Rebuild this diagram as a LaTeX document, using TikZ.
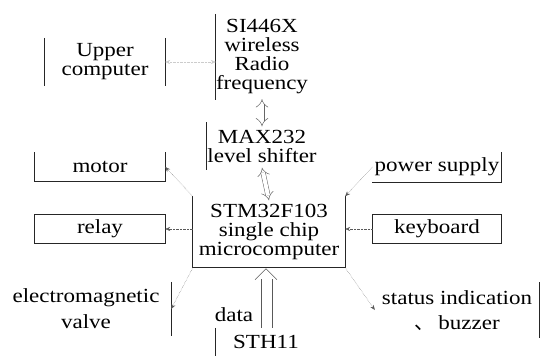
\documentclass[tikz,border=0pt]{standalone}
\usepackage{fontspec}
\setmainfont{Liberation Serif}[FakeStretch=1.15]
\newfontfamily\cjk{Noto Sans CJK SC}
\usepackage{tikz}
\usetikzlibrary{
  arrows.meta,
  positioning
}
\newcommand{\blksize}{\fontsize{20}{19}\selectfont}

\begin{document}
\begin{tikzpicture}[
  x=1pt, y=-1pt,
  blk/.style={inner sep=0pt, align=center, font=\blksize, minimum width=#1},
  rim/.style={line width=1pt, black!85},
  link/.style={-{Stealth[length=5pt, width=4pt]}, densely dotted, gray!70!black, thin},
  bus/.style={double, double distance=4pt, {Implies}-{Implies}, gray!80!black, line width=0.5pt},
  feed/.style={gray!70!black, line width=0.8pt}
]
  \useasboundingbox (0,0) rectangle (540,356);

  % Upper part: radio and level shifter
  \node[blk=90pt, minimum height=86pt] (rf) at (262,57) {SI446X\\wireless\\Radio\\frequency};
  \node[blk=120pt, minimum height=48pt] (upper) at (105,62) {Upper\\computer};
  \node[blk=110pt, minimum height=47pt] (max) at (262,146) {MAX232\\level shifter};

  % MCU
  \node[blk=152pt, minimum height=71pt] (mcu) at (269,232) {STM32F103\\single chip\\microcomputer};

  % Left side
  \node[blk=130pt, minimum height=29pt] (motor) at (100,167) {motor};
  \node[blk=130pt, minimum height=29pt] (relay) at (100,229) {relay};
  \node[blk=170pt, minimum height=54pt] (valve) at (86,309) {electromagnetic\\[7pt]valve};

  % Right side
  \node[blk=129pt, minimum height=30pt] (power) at (437,167) {power supply};
  \node[blk=129pt, minimum height=29pt] (keyb) at (437,229) {keyboard};
  \node[blk=164pt, minimum height=55pt] (status) at (457,310) {status indication\\[6pt]\smash{\cjk 、}\hspace{4pt}buzzer};

  % Bottom: sensor
  \node[blk=100pt, minimum height=28pt] (sth) at (266,342) {STH11};
  \node[font=\blksize, inner sep=0pt] (data) at (234,315) {data};

  % Box borders (only the visible edges)
  \draw[rim] (rf.north west) -- (rf.south west);
  \draw[rim] (upper.north west) -- (upper.south west);
  \draw[rim] (upper.north east) -- (upper.south east);
  \draw[rim] (max.north west) -- (max.south west);
  \draw[rim] (mcu.north west) -- (mcu.south west) -- (mcu.south east) -- (mcu.north east);
  \draw[rim] (motor.north west) -- (motor.south west) -- (motor.south east) -- (motor.north east);
  \draw[rim] (relay.north west) rectangle (relay.south east);
  \draw[rim] (valve.north east) -- (valve.south east);
  \draw[rim] (power.south west) -- (power.south east) -- (power.north east);
  \draw[rim] (keyb.north west) rectangle (keyb.south east);
  \draw[rim] (status.north east) -- (status.south east);
  \draw[rim] (sth.north west) -- (sth.south west);

  % Arrows
  \draw[link, gray!40, {Stealth[length=5pt, width=4pt]}-{Stealth[length=5pt, width=4pt]}] (upper.east) -- (rf.west |- upper.east);
  \draw[bus] ([yshift=1pt]rf.south) -- ([yshift=-4pt]max.north);
  \draw[bus] ([yshift=2pt]max.south) -- ([yshift=-4pt]mcu.north);
  \draw[link] (mcu.north west) -- (motor.east);
  \draw[link] (mcu.west |- relay.east) -- (relay.east);
  \draw[link] (power.west) -- (mcu.north east);
  \draw[link] (keyb.west) -- (mcu.east |- keyb.west);
  \draw[link] (mcu.south west) -- (valve.east);
  \draw[link] (mcu.south east) -- (status.west);

  % Hollow data arrow from the sensor
  \draw[feed] ([xshift=-8pt]sth.north -| mcu.south) -- ([xshift=-8pt, yshift=-11pt]mcu.south);
  \draw[feed] ([xshift=3pt]sth.north -| mcu.south) -- ([xshift=3pt, yshift=-11pt]mcu.south);
  \draw[feed, line width=0.5pt] ([xshift=-14pt, yshift=-12pt]mcu.south) -- ([xshift=-3pt, yshift=-1pt]mcu.south)
    -- ([xshift=8pt, yshift=-12pt]mcu.south);
\end{tikzpicture}
\end{document}
